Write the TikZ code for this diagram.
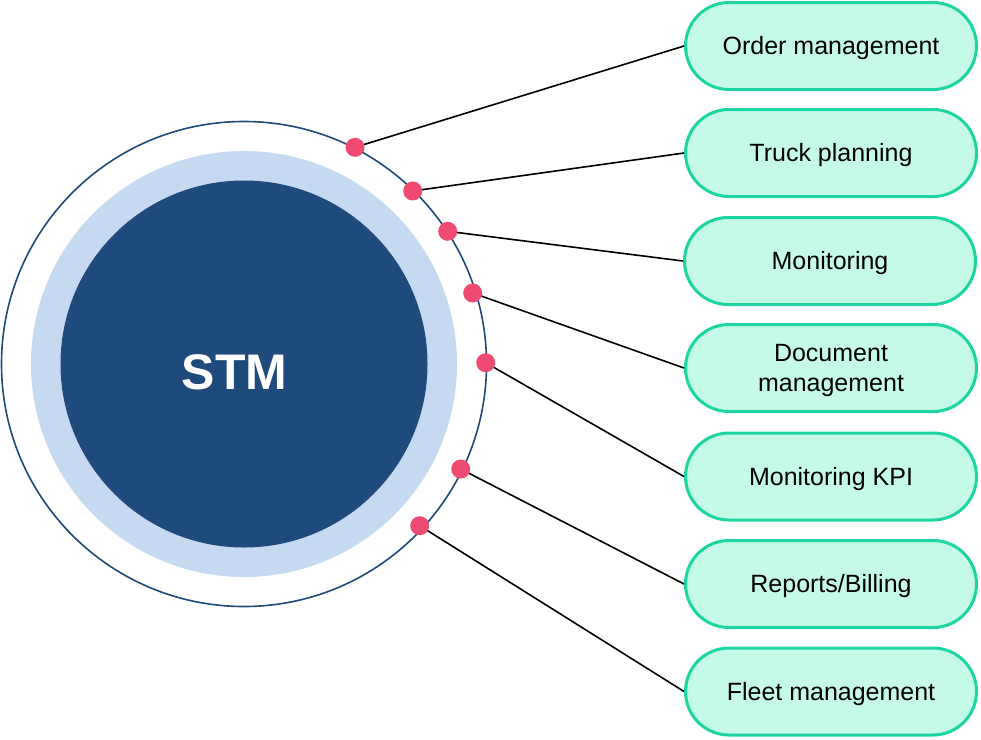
\documentclass[tikz,border=0pt]{standalone}
\usepackage{fontspec}
\setmainfont{Liberation Sans}
\usetikzlibrary{shapes.misc}
\definecolor{darkblue}{HTML}{1F4A7C}
\definecolor{lightblue}{HTML}{C5D9F0}
\definecolor{dotred}{HTML}{EE4A72}
\definecolor{mintfill}{HTML}{C5FAE9}
\definecolor{mintborder}{HTML}{1DD5A0}
\tikzset{
  featbox/.style={rounded rectangle, draw=mintborder, line width=3pt, fill=mintfill,
    minimum width=291pt, minimum height=87pt, inner sep=0pt, align=center,
    text height=17.9pt, text depth=0pt,
    font=\fontsize{25}{30}\selectfont, text=black},
  pdot/.style={circle, fill=dotred, draw=none, minimum size=19pt, inner sep=0pt},
  link/.style={draw=black, line width=1.6pt},
}
\begin{document}
\begin{tikzpicture}[x=1pt,y=-1pt]
\useasboundingbox (0,0) rectangle (981,739);
% central circles
\node[circle, draw=darkblue, line width=1.6pt, fill=white, minimum size=485pt, inner sep=0pt] (outer) at (244,364) {};
\node[circle, fill=lightblue, minimum size=426pt, inner sep=0pt] (ring) at (244,364) {};
\node[circle, fill=darkblue, minimum size=367pt, inner sep=0pt] (core) at (244,364) {};
\node[text=white, font=\fontsize{50}{60}\selectfont\bfseries, inner sep=0pt] (stm) at (234.5,372) {STM};
% boxes
\node[featbox] (b1) at (831,46) {Order management};
\node[featbox] (b2) at (831,153) {Truck planning};
\node[featbox] (b3) at (830,261) {Monitoring};
\node[featbox, text height=47.9pt] (b4) at (831,368) {Document\\management};
\node[featbox] (b5) at (831,476.5) {Monitoring KPI};
\node[featbox] (b6) at (831,584) {Reports/Billing};
\node[featbox] (b7) at (831,691.5) {Fleet management};
% dot coordinates
\coordinate (c1) at (355,147.3);
\coordinate (c2) at (412.7,191);
\coordinate (c3) at (447.7,231.3);
\coordinate (c4) at (472.7,293);
\coordinate (c5) at (485.7,362.7);
\coordinate (c6) at (460.7,469);
\coordinate (c7) at (419.7,525.7);
% links
\foreach \i in {1,...,7} {
  \draw[link] (c\i) -- (b\i.west);
}
% dots
\foreach \i in {1,...,7} {
  \node[pdot] (d\i) at (c\i) {};
}
\end{tikzpicture}
\end{document}
